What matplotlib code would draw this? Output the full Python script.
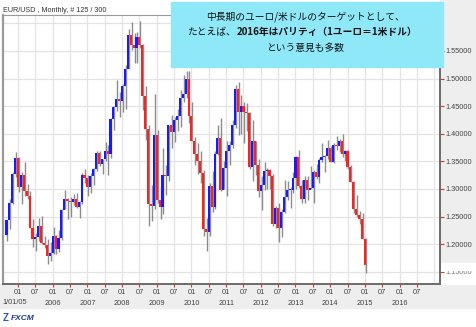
import numpy as np
import matplotlib.pyplot as plt
from matplotlib.patches import Rectangle
from matplotlib.transforms import Bbox, blended_transform_factory

plt.rcParams['font.family'] = ['Liberation Sans', 'DejaVu Sans']

# EUR/USD monthly bars, Sep 2004 .. Jan 2015 (125 bars)
opens = [
    1.2175, 1.2435, 1.2740, 1.3265,
    1.3555, 1.3040, 1.3255, 1.2960, 1.2870, 1.2300, 1.2100, 1.2125, 1.2335, 1.2025, 1.1990, 1.1790,
    1.1840, 1.2155, 1.1920, 1.2120, 1.2625, 1.2815, 1.2790, 1.2760, 1.2815, 1.2680, 1.2760, 1.3250,
    1.3200, 1.3030, 1.3230, 1.3355, 1.3650, 1.3450, 1.3540, 1.3680, 1.3640, 1.4265, 1.4490, 1.4630,
    1.4590, 1.4860, 1.5180, 1.5790, 1.5610, 1.5550, 1.5750, 1.5600, 1.4680, 1.4080, 1.2720, 1.2700,
    1.3970, 1.2800, 1.2670, 1.3250, 1.3240, 1.4150, 1.4030, 1.4250, 1.4330, 1.4640, 1.4720, 1.5000,
    1.4320, 1.3860, 1.3630, 1.3510, 1.3290, 1.2270, 1.2230, 1.3050, 1.2680, 1.3630, 1.3930, 1.2980,
    1.3380, 1.3690, 1.3800, 1.4160, 1.4810, 1.4390, 1.4500, 1.4390, 1.4380, 1.3390, 1.3860, 1.3440,
    1.2960, 1.3080, 1.3330, 1.3340, 1.3240, 1.2360, 1.2660, 1.2300, 1.2580, 1.2860, 1.2980, 1.2990,
    1.3190, 1.3580, 1.3060, 1.2820, 1.3170, 1.2990, 1.3010, 1.3300, 1.3220, 1.3530, 1.3580, 1.3590,
    1.3740, 1.3485, 1.3800, 1.3770, 1.3870, 1.3630, 1.3690, 1.3390, 1.3130, 1.2630, 1.2530, 1.2450,
    1.2100,
]
highs = [
    1.2440, 1.2810, 1.3300, 1.3667,
    1.3580, 1.3300, 1.3480, 1.3095, 1.2960, 1.2450, 1.2200, 1.2480, 1.2510, 1.2150, 1.2100, 1.2040,
    1.2320, 1.2160, 1.2250, 1.2640, 1.2980, 1.2840, 1.2860, 1.2910, 1.2920, 1.2775, 1.3290, 1.3365,
    1.3255, 1.3290, 1.3375, 1.3680, 1.3680, 1.3550, 1.3850, 1.3800, 1.4280, 1.4500, 1.4965, 1.4765,
    1.4900, 1.5240, 1.5905, 1.6020, 1.5820, 1.5850, 1.6038, 1.5630, 1.4865, 1.4150, 1.3080, 1.4720,
    1.4060, 1.3060, 1.3740, 1.3430, 1.4160, 1.4340, 1.4310, 1.4450, 1.4790, 1.5060, 1.5145, 1.5140,
    1.4580, 1.3950, 1.3830, 1.3690, 1.3340, 1.2470, 1.3110, 1.3330, 1.3680, 1.4160, 1.4280, 1.3500,
    1.3860, 1.3860, 1.4250, 1.4880, 1.4940, 1.4700, 1.4580, 1.4550, 1.4400, 1.4250, 1.3870, 1.3550,
    1.3235, 1.3485, 1.3385, 1.3370, 1.3280, 1.2690, 1.2750, 1.2640, 1.3170, 1.3140, 1.3030, 1.3310,
    1.3590, 1.3710, 1.3160, 1.3240, 1.3240, 1.3420, 1.3350, 1.3450, 1.3570, 1.3830, 1.3620, 1.3895,
    1.3775, 1.3825, 1.3965, 1.3905, 1.3995, 1.3700, 1.3700, 1.3440, 1.3140, 1.2890, 1.2600, 1.2570,
    1.2120,
]
lows = [
    1.2060, 1.2270, 1.2720, 1.3220,
    1.2950, 1.2725, 1.2880, 1.2810, 1.2290, 1.1950, 1.1870, 1.2050, 1.2000, 1.1930, 1.1640, 1.1705,
    1.1830, 1.1825, 1.1860, 1.2070, 1.2630, 1.2455, 1.2485, 1.2710, 1.2660, 1.2480, 1.2735, 1.3100,
    1.2865, 1.2930, 1.3070, 1.3330, 1.3415, 1.3265, 1.3510, 1.3260, 1.3570, 1.4070, 1.4420, 1.4300,
    1.4400, 1.4440, 1.5170, 1.5510, 1.5280, 1.5280, 1.5560, 1.4430, 1.3880, 1.2330, 1.2420, 1.2640,
    1.2750, 1.2460, 1.2550, 1.2890, 1.3150, 1.3750, 1.3850, 1.4045, 1.4130, 1.4580, 1.4650, 1.4200,
    1.3860, 1.3440, 1.3270, 1.3110, 1.2140, 1.1875, 1.2150, 1.2590, 1.2640, 1.3610, 1.2970, 1.3000,
    1.2870, 1.3430, 1.3750, 1.4110, 1.3970, 1.4000, 1.3840, 1.4050, 1.3360, 1.3150, 1.3250, 1.2860,
    1.2625, 1.2975, 1.3000, 1.3000, 1.2330, 1.2290, 1.2040, 1.2130, 1.2560, 1.2800, 1.2660, 1.2930,
    1.3000, 1.3020, 1.2750, 1.2750, 1.2800, 1.3000, 1.2750, 1.3180, 1.3100, 1.3490, 1.3300, 1.3550,
    1.3480, 1.3475, 1.3710, 1.3670, 1.3585, 1.3500, 1.3370, 1.3130, 1.2570, 1.2500, 1.2360, 1.2100,
    1.1480,
]
closes = [
    1.2435, 1.2740, 1.3265, 1.3555,
    1.3040, 1.3255, 1.2960, 1.2870, 1.2300, 1.2100, 1.2125, 1.2335, 1.2025, 1.1990, 1.1790, 1.1840,
    1.2155, 1.1920, 1.2120, 1.2625, 1.2815, 1.2790, 1.2760, 1.2815, 1.2680, 1.2760, 1.3250, 1.3200,
    1.3030, 1.3230, 1.3355, 1.3650, 1.3450, 1.3540, 1.3680, 1.3640, 1.4265, 1.4490, 1.4630, 1.4590,
    1.4860, 1.5180, 1.5790, 1.5610, 1.5550, 1.5750, 1.5600, 1.4680, 1.4080, 1.2720, 1.2700, 1.3970,
    1.2800, 1.2670, 1.3250, 1.3240, 1.4150, 1.4030, 1.4250, 1.4330, 1.4640, 1.4720, 1.5000, 1.4320,
    1.3860, 1.3630, 1.3510, 1.3290, 1.2270, 1.2230, 1.3050, 1.2680, 1.3630, 1.3930, 1.2980, 1.3380,
    1.3690, 1.3800, 1.4160, 1.4810, 1.4390, 1.4500, 1.4390, 1.4380, 1.3390, 1.3860, 1.3440, 1.2960,
    1.3080, 1.3330, 1.3340, 1.3240, 1.2360, 1.2660, 1.2300, 1.2580, 1.2860, 1.2980, 1.2990, 1.3190,
    1.3580, 1.3060, 1.2820, 1.3170, 1.2990, 1.3010, 1.3300, 1.3220, 1.3530, 1.3580, 1.3590, 1.3740,
    1.3485, 1.3800, 1.3770, 1.3870, 1.3630, 1.3690, 1.3390, 1.3130, 1.2630, 1.2530, 1.2450, 1.2100,
    1.1620,
]

price_levels = [1.15, 1.20, 1.25, 1.30, 1.35, 1.40, 1.45, 1.50, 1.55]
year_labels = ['1/01/05', '2006', '2007', '2008', '2009', '2010', '2011',
               '2012', '2013', '2014', '2015', '2016']

W, H = 476, 327
fig = plt.figure(figsize=(W / 100, H / 100), dpi=100)

def px(x, y):
    # pixel position from top-left -> figure fraction
    return x / W, 1 - y / H

# grey label panels round the plot
fig.add_artist(Rectangle(px(440, 308), 36 / W, 308 / H, transform=fig.transFigure,
                         color='#eeeeee', zorder=-2))
fig.add_artist(Rectangle(px(0, 308), 440 / W, 24 / H, transform=fig.transFigure,
                         color='#eeeeee', zorder=-2))
# current price marker box
fig.add_artist(Rectangle(px(441, 284), 35 / W, 21 / H, transform=fig.transFigure,
                         color='white', zorder=-1))

ax = fig.add_axes([3 / W, 1 - 284 / H, 437 / W, 269 / H])
ax.set_xlim(-5.2, 146)
ax.set_ylim(1.128, 1.615)

o = np.array(opens)
h = np.array(highs)
l = np.array(lows)
c = np.array(closes)
x = np.arange(len(c)) - 4  # months from Jan 2005

ax.vlines(x + 0.3, l, h, color='#8c8c8c', lw=1.0, zorder=2)
colors = np.where(c >= o, '#1a1aff', '#ff2020')
body = np.maximum(np.abs(c - o), 0.0015)
ax.bar(x, body, bottom=np.minimum(o, c), width=0.72, color=colors, zorder=3)

# grid
for m in range(0, 150, 6):
    ax.axvline(m, color='#e4e4e4', lw=0.9, zorder=0)
for v in price_levels + [1.60]:
    ax.axhline(v, color='#e4e4e4', lw=0.9, zorder=0)

# frame
for side in ['left', 'top']:
    ax.spines[side].set_color('#9a9a9a')
ax.spines['left'].set_linewidth(1.6)
ax.spines['top'].set_linewidth(0.8)
for side in ['bottom', 'right']:
    ax.spines[side].set_color('#6a6a6a')
    ax.spines[side].set_linewidth(1.4)

# x axis: month ticks with two label rows
month_ticks = list(range(0, 139, 6))
ax.set_xticks(month_ticks)
ax.set_xticklabels([])
ax.tick_params(axis='x', direction='out', length=2.5, width=0.8, color='#e03030')
tr = blended_transform_factory(ax.transData, ax.transAxes)
for m in month_ticks:
    ax.text(m, -0.030, '01' if m % 12 == 0 else '07', transform=tr, ha='center',
            va='center', fontsize=5.3, color='#444444')
for i, lab in enumerate(year_labels):
    if i == 0:
        fig.text(2 / W, 1 - 303 / H, lab, ha='left', va='center', fontsize=5.3,
                 color='#444444')
    else:
        ax.text(i * 12, -0.071, lab, transform=tr, ha='center', va='center',
                fontsize=5.3, color='#444444')

# y axis on the right
ax.yaxis.tick_right()
ax.set_yticks(price_levels)
ax.set_yticklabels([''] + [f'{v:.5f}' for v in price_levels[1:]])
ax.tick_params(axis='y', direction='out', length=3, width=0.8, color='#e03030',
               labelcolor='#444444', labelsize=5.3, pad=1.2)
ax.tick_params(axis='y', which='both', left=False)

# last price label, partly hidden by the marker box
t = fig.text(445 / W, 1 - 272 / H, f'{price_levels[0]:.5f}', ha='left', va='center',
             fontsize=5.3, color='#777777')
t.set_clip_box(Bbox([[440, 327 - 284], [476, 327 - 271]]))
t.set_clip_on(True)

fig.text(3 / W, 1 - 10 / H, 'EUR/USD , Monthly, # 125 / 300', ha='left', va='center',
         fontsize=5.2, color='#333333')

# annotation box
fig.add_artist(Rectangle(px(171, 67), (443 - 171) / W, 65 / H, transform=fig.transFigure,
                         color='#8ee8f8', zorder=5))
jp = ['Noto Sans CJK JP', 'DejaVu Sans']
fig.text(305 / W, 1 - 17 / H, '中長期のユーロ/米ドルのターゲットとして、', ha='center',
         va='center', fontsize=7, family=jp, color='#111111', zorder=6)
fig.text(236 / W, 1 - 32 / H, 'たとえば、', ha='right', va='center', fontsize=7,
         family=jp, color='#111111', zorder=6)
fig.text(237 / W, 1 - 32 / H, '2016年はパリティ（1ユーロ＝1米ドル）', ha='left',
         va='center', fontsize=7, family=jp, weight='bold', color='#111111', zorder=6)
fig.text(305 / W, 1 - 48 / H, 'という意見も多数', ha='center', va='center', fontsize=7,
         family=jp, color='#111111', zorder=6)

# broker logo
fig.text(3 / W, 1 - 318 / H, 'Z', ha='left', va='center', fontsize=7, weight='bold',
         color='#2a55c8')
fig.text(11 / W, 1 - 318 / H, 'FXCM', ha='left', va='center', fontsize=6, weight='bold',
         style='italic', color='#1f3a8a')

fig.savefig('out.png', dpi=100)
